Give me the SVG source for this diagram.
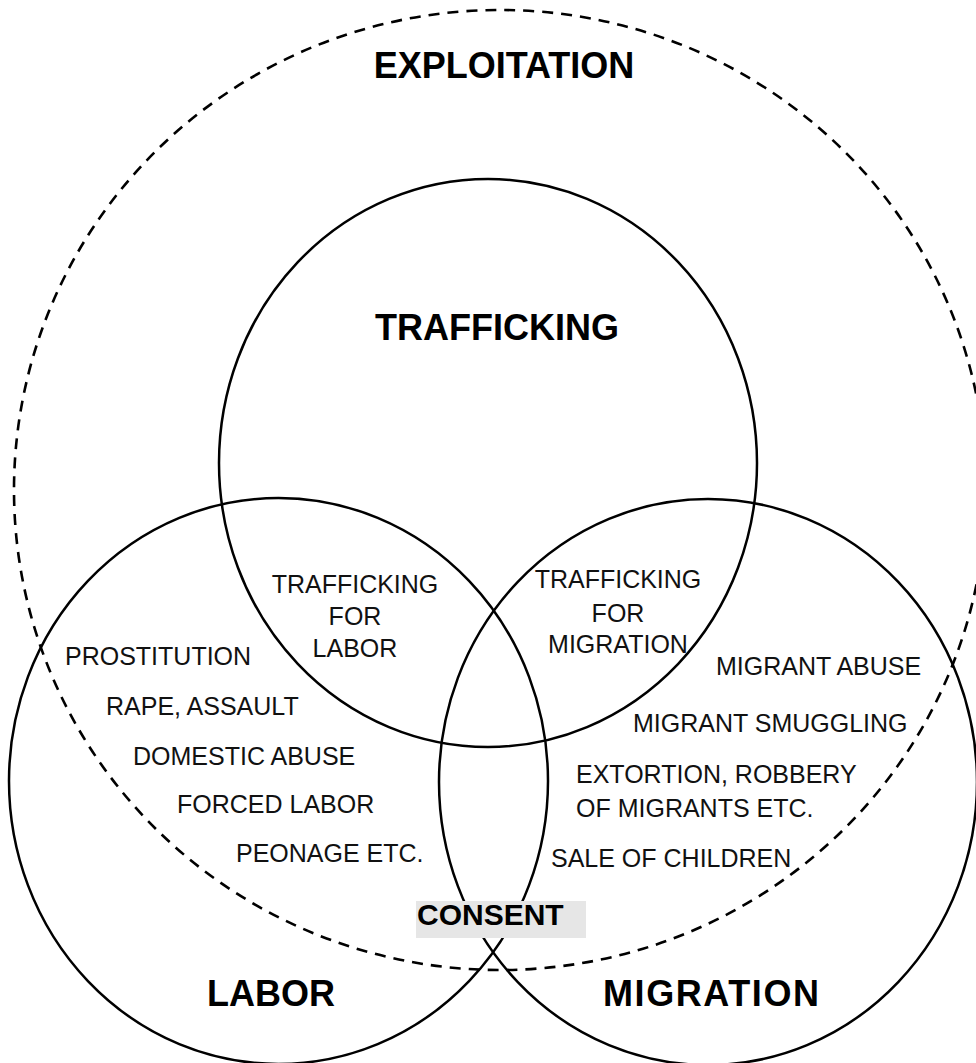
<svg xmlns="http://www.w3.org/2000/svg" width="976" height="1063" viewBox="0 0 976 1063">
<style>
.ring{fill:none;stroke:#000;stroke-width:2.5}
.dash{fill:none;stroke:#000;stroke-width:2.6;stroke-dasharray:11 8}
.big{font-family:"Liberation Sans",Arial,sans-serif;font-weight:bold;font-size:36px;fill:#000}
.sm{font-family:"Liberation Sans",Arial,sans-serif;font-size:25px;fill:#111}
.mid{text-anchor:middle}
</style>
<rect width="976" height="1063" fill="#fff"/>
<g id="exploitation">
<ellipse class="dash" cx="500" cy="490" rx="486" ry="480"/>
<text class="big mid" x="504" y="78">EXPLOITATION</text>
</g>
<g id="trafficking">
<ellipse class="ring" cx="488" cy="463" rx="269" ry="284"/>
<text class="big mid" x="497" y="340">TRAFFICKING</text>
</g>
<g id="labor">
<ellipse class="ring" cx="278.5" cy="781" rx="269.5" ry="283"/>
<text class="big" x="207" y="1006">LABOR</text>
</g>
<g id="migration">
<ellipse class="ring" cx="708" cy="782" rx="269" ry="283"/>
<text class="big" x="603" y="1006" textLength="216">MIGRATION</text>
</g>
<g id="trafficking-for-labor">
<text class="sm mid" x="355" y="593">TRAFFICKING</text>
<text class="sm mid" x="355" y="625">FOR</text>
<text class="sm mid" x="355" y="657">LABOR</text>
</g>
<g id="trafficking-for-migration">
<text class="sm mid" x="618" y="588">TRAFFICKING</text>
<text class="sm mid" x="618" y="622">FOR</text>
<text class="sm mid" x="618" y="653">MIGRATION</text>
</g>
<g id="labor-items">
<text class="sm" x="65" y="665">PROSTITUTION</text>
<text class="sm" x="106" y="715">RAPE, ASSAULT</text>
<text class="sm" x="133" y="765">DOMESTIC ABUSE</text>
<text class="sm" x="177" y="813">FORCED LABOR</text>
<text class="sm" x="236" y="862">PEONAGE ETC.</text>
</g>
<g id="migration-items">
<text class="sm" x="716" y="675">MIGRANT ABUSE</text>
<text class="sm" x="633" y="732">MIGRANT SMUGGLING</text>
<text class="sm" x="576" y="783">EXTORTION, ROBBERY</text>
<text class="sm" x="576" y="817">OF MIGRANTS ETC.</text>
<text class="sm" x="551" y="867">SALE OF CHILDREN</text>
</g>
<g id="consent">
<rect x="416" y="901" width="170" height="37" fill="#e6e6e6"/>
<text class="big" x="417" y="925" style="font-size:30px">CONSENT</text>
</g>
</svg>
